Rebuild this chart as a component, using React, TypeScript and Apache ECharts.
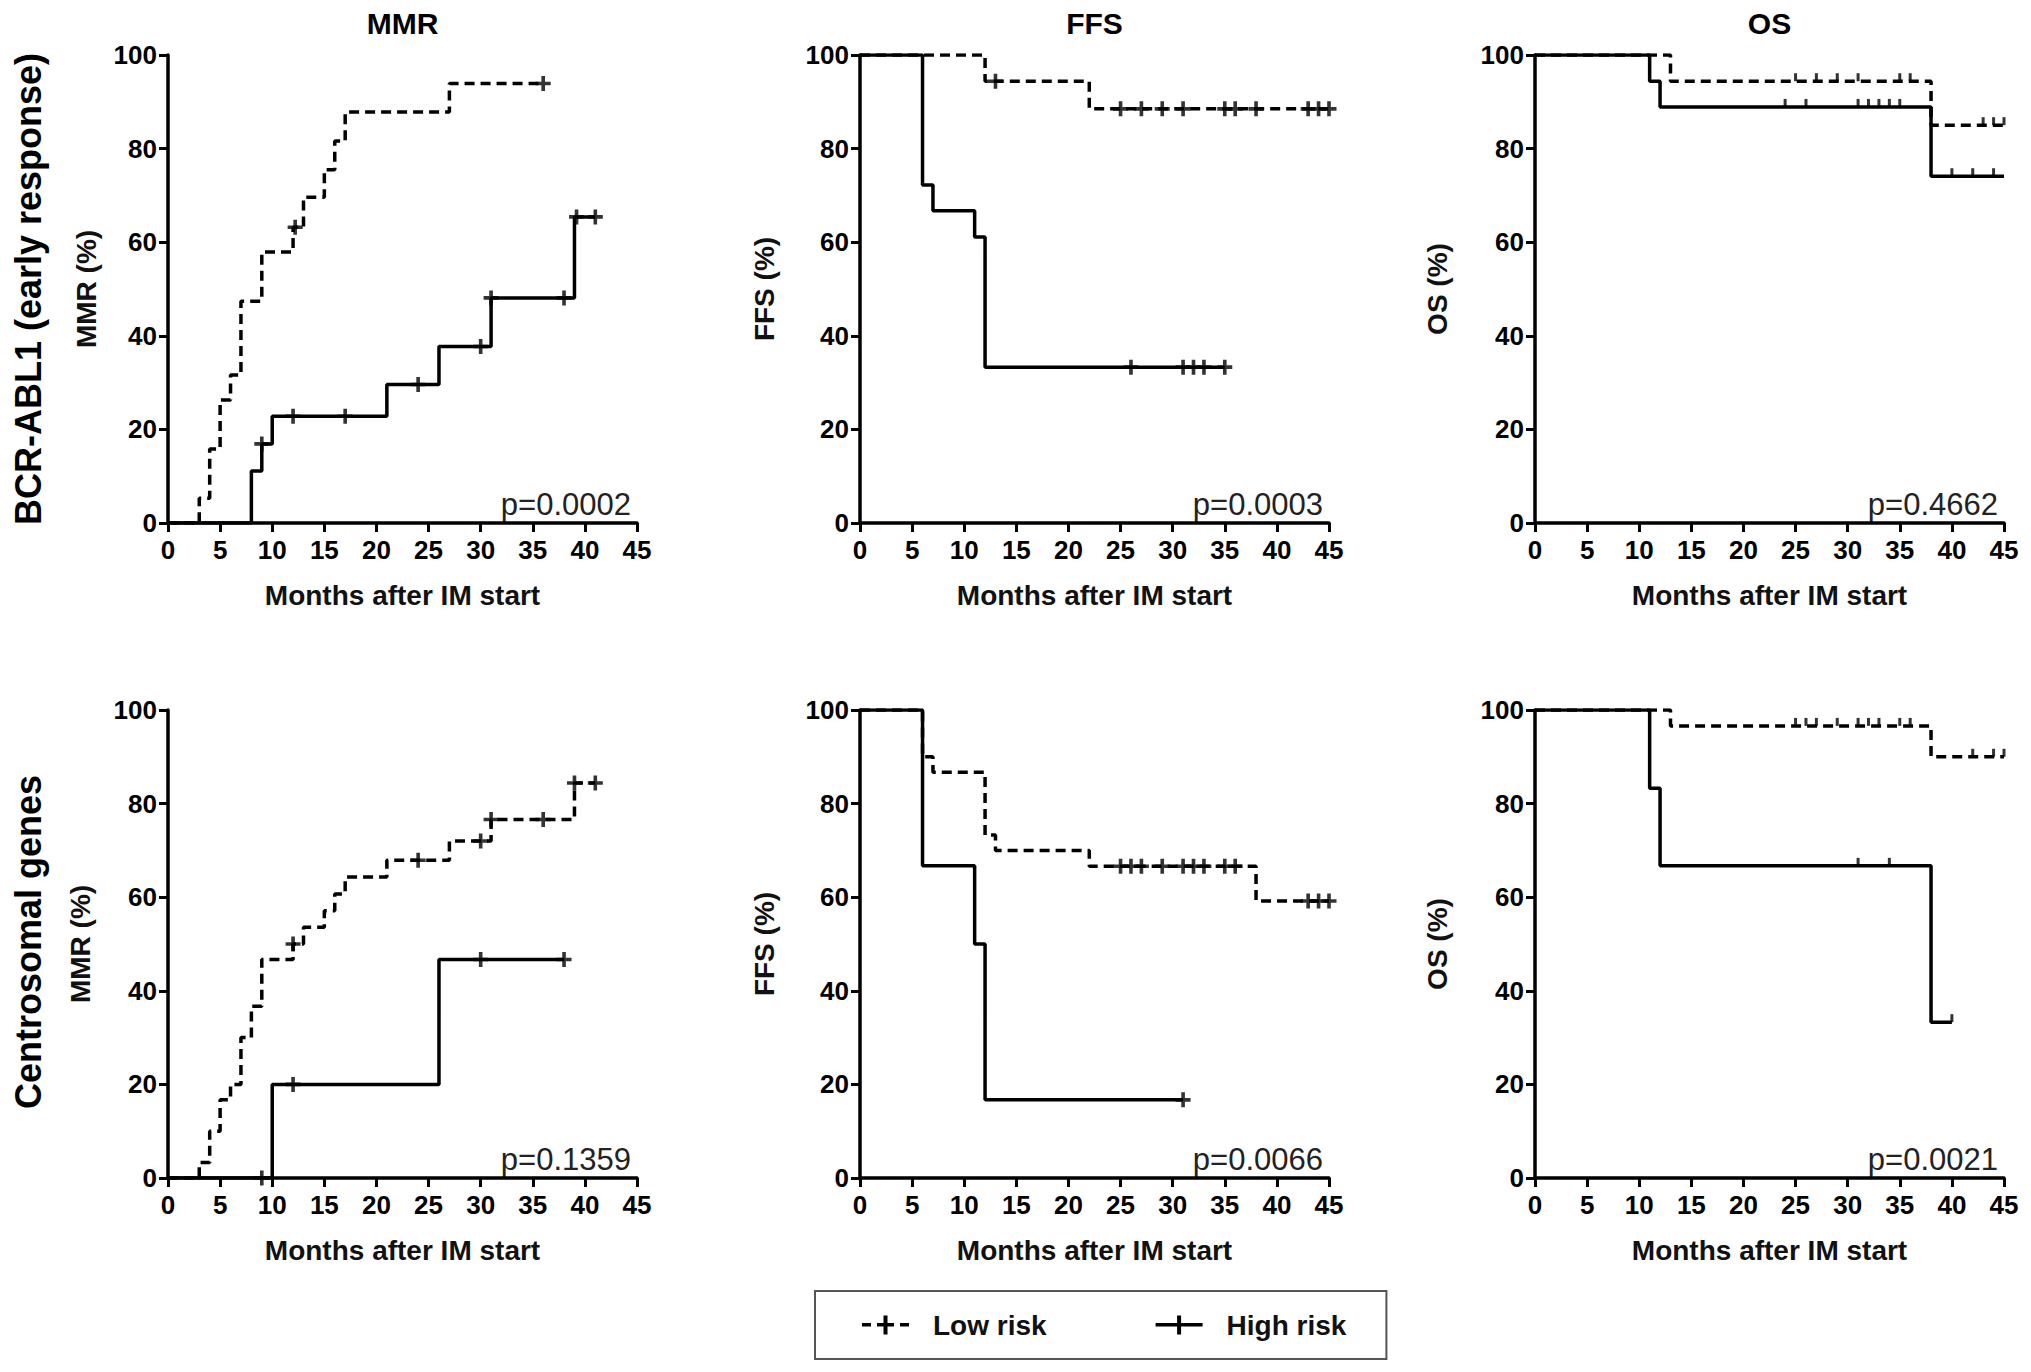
import React, { useEffect, useRef } from "react";
import * as echarts from "echarts";

const FONT = '"Liberation Sans", Arial, Helvetica, sans-serif';

// ---------- data (months, % values, censor times) ----------
// Row 1: BCR-ABL1 (early response)
const mmr1LowT = [0, 3, 4, 5, 6, 7, 9, 12, 13, 15, 16, 17, 27, 36];
const mmr1LowV = [0, 5.3, 15.8, 26.3, 31.6, 47.4, 57.9, 63.2, 69.6, 75.5, 81.6, 87.8, 93.9, 93.9];
const mmr1LowC = [12.2, 36];
const mmr1HighT = [0, 8, 9, 10, 21, 26, 31, 39, 41];
const mmr1HighV = [0, 11.1, 16.9, 22.8, 29.6, 37.7, 48.1, 65.4, 65.4];
const mmr1HighC = [9, 12, 17, 24, 30, 31, 38, 39.2, 41];

const ffs1LowT = [0, 12, 22, 45];
const ffs1LowV = [100, 94.4, 88.5, 88.5];
const ffs1LowC = [13, 25, 27, 29, 31, 35, 36, 38, 43, 44, 45];
const ffs1HighT = [0, 6, 7, 11, 12, 35];
const ffs1HighV = [100, 72.2, 66.7, 61.1, 33.3, 33.3];
const ffs1HighC = [26, 31, 32, 33, 35];

const os1LowT = [0, 13, 38, 45];
const os1LowV = [100, 94.4, 85.0, 85.0];
const os1LowC = [25, 27, 29, 31, 35, 36, 43, 44, 45];
const os1HighT = [0, 11, 12, 38, 45];
const os1HighV = [100, 94.4, 88.9, 74.1, 74.1];
const os1HighC = [24, 26, 31, 32, 33, 34, 35, 40, 42, 44];

// Row 2: Centrosomal genes
const mmr2LowT = [0, 3, 4, 5, 6, 7, 8, 9, 12, 13, 15, 16, 17, 21, 27, 31, 39, 41];
const mmr2LowV = [0, 3.3, 10, 16.7, 20, 30, 36.7, 46.7, 50, 53.6, 57.1, 60.7, 64.3, 67.9, 72.0, 76.6, 84.4, 84.4];
const mmr2LowC = [12, 24, 30, 31, 36, 39, 41];
const mmr2HighT = [0, 10, 26, 38];
const mmr2HighV = [0, 20, 46.7, 46.7];
const mmr2HighC = [9, 12, 30, 38];

const ffs2LowT = [0, 6, 7, 12, 13, 22, 38, 45];
const ffs2LowV = [100, 90, 86.7, 73.3, 70, 66.6, 59.2, 59.2];
const ffs2LowC = [25, 26, 27, 29, 31, 32, 33, 35, 36, 43, 44, 45];
const ffs2HighT = [0, 6, 11, 12, 31];
const ffs2HighV = [100, 66.7, 50, 16.7, 16.7];
const ffs2HighC = [31];

const os2LowT = [0, 13, 38, 45];
const os2LowV = [100, 96.6, 90.0, 90.0];
const os2LowC = [25, 26, 27, 29, 31, 32, 33, 35, 36, 42, 44, 45];
const os2HighT = [0, 11, 12, 38, 40];
const os2HighV = [100, 83.3, 66.7, 33.3, 33.3];
const os2HighC = [31, 34, 40];

const colTitles = ["MMR", "FFS", "OS"];
const rowLabels = ["BCR-ABL1 (early response)", "Centrosomal genes"];
const yNames = ["MMR (%)", "FFS (%)", "OS (%)"];
const pValues = ["p=0.0002", "p=0.0003", "p=0.4662", "p=0.1359", "p=0.0066", "p=0.0021"];
const xName = "Months after IM start";
const legendNames = ["Low risk", "High risk"];
const X_MAX = 45;
const X_STEP = 5;
const Y_MAX = 100;
const Y_STEP = 20;

// ---------- layout ----------
const COL_LEFT = [168, 860, 1535];
const ROW_TOP = [55, 710];
const PW = 469;
const PH = 468;
const Y_NAME_GAP = [68, 82, 84, 74, 82, 84];
const ROW_LABEL_Y = [289, 942];

const PLUS = "path://M5.5,0h3.5v5.5h5.5v3.5h-5.5v5.5h-3.5v-5.5h-5.5v-3.5h5.5z";
const LOW_ICON =
  "path://M0,8.5h9v3.5h-9z M15,8.5h6.5v-7.5h4v7.5h6.5v3.5h-6.5v8h-4v-8h-6.5z M38,8.5h9v3.5h-9z";
const HIGH_ICON =
  "path://M0,8.5h21.5v-7.5h4v7.5h21.5v3.5h-21.5v8h-4v-8h-21.5z";

function stepAt(T: number[], V: number[], t: number) {
  let v = V[0];
  for (let i = 0; i < T.length; i++) if (T[i] <= t) v = V[i];
  return v;
}

type Curve = { T: number[]; V: number[]; C: number[] };
type Panel = { low: Curve; high: Curve; tickMarks: boolean };

const panels: Panel[] = [
  { low: { T: mmr1LowT, V: mmr1LowV, C: mmr1LowC }, high: { T: mmr1HighT, V: mmr1HighV, C: mmr1HighC }, tickMarks: false },
  { low: { T: ffs1LowT, V: ffs1LowV, C: ffs1LowC }, high: { T: ffs1HighT, V: ffs1HighV, C: ffs1HighC }, tickMarks: false },
  { low: { T: os1LowT, V: os1LowV, C: os1LowC }, high: { T: os1HighT, V: os1HighV, C: os1HighC }, tickMarks: true },
  { low: { T: mmr2LowT, V: mmr2LowV, C: mmr2LowC }, high: { T: mmr2HighT, V: mmr2HighV, C: mmr2HighC }, tickMarks: false },
  { low: { T: ffs2LowT, V: ffs2LowV, C: ffs2LowC }, high: { T: ffs2HighT, V: ffs2HighV, C: ffs2HighC }, tickMarks: false },
  { low: { T: os2LowT, V: os2LowV, C: os2LowC }, high: { T: os2HighT, V: os2HighV, C: os2HighC }, tickMarks: true },
];

function buildOption() {
  const grids: any[] = [];
  const xAxes: any[] = [];
  const yAxes: any[] = [];
  const series: any[] = [];
  const graphics: any[] = [];

  panels.forEach((p, i) => {
    const row = Math.floor(i / 3);
    const col = i % 3;
    const left = COL_LEFT[col];
    const top = ROW_TOP[row];
    grids.push({ left, top, width: PW, height: PH, containLabel: false });
    const axisCommon = {
      axisLine: { show: true, onZero: false, lineStyle: { color: "#000", width: 3.5 } },
      axisTick: { show: true, length: 9, lineStyle: { color: "#000", width: 3 } },
      splitLine: { show: false },
    };
    xAxes.push({
      type: "value",
      gridIndex: i,
      min: 0,
      max: X_MAX,
      interval: X_STEP,
      ...axisCommon,
      axisLabel: { color: "#000", fontSize: 26, fontWeight: "bold", fontFamily: FONT, margin: 14 },
      name: xName,
      nameLocation: "middle",
      nameGap: 58,
      nameTextStyle: { color: "#111", fontSize: 28, fontWeight: "bold", fontFamily: FONT },
    });
    yAxes.push({
      type: "value",
      gridIndex: i,
      min: 0,
      max: Y_MAX,
      interval: Y_STEP,
      ...axisCommon,
      axisLabel: { color: "#000", fontSize: 26, fontWeight: "bold", fontFamily: FONT, margin: 11 },
      name: yNames[col],
      nameLocation: "middle",
      nameRotate: 90,
      nameGap: Y_NAME_GAP[i],
      nameTextStyle: { color: "#111", fontSize: 28, fontWeight: "bold", fontFamily: FONT },
    });

    const censorSymbol = p.tickMarks
      ? { symbol: "rect", symbolSize: [3, 8], symbolOffset: [0, -4] }
      : { symbol: PLUS, symbolSize: 15 };

    ([
      ["Low risk", p.low, [10, 6]],
      ["High risk", p.high, "solid"],
    ] as any[]).forEach(([name, c, dash]) => {
      series.push({
        type: "line",
        name,
        xAxisIndex: i,
        yAxisIndex: i,
        step: "end",
        showSymbol: false,
        symbol: "none",
        silent: true,
        data: c.T.map((t: number, k: number) => [t, c.V[k]]),
        lineStyle: { color: "#000", width: 3.5, type: dash },
        itemStyle: { color: "#000" },
        z: 3,
      });
      series.push({
        type: "scatter",
        name,
        xAxisIndex: i,
        yAxisIndex: i,
        silent: true,
        data: c.C.map((t: number) => [t, stepAt(c.T, c.V, t)]),
        ...censorSymbol,
        itemStyle: { color: "#000" },
        z: 4,
      });
    });

    graphics.push({
      type: "text",
      x: left + PW - 6,
      y: top + PH - 19,
      style: {
        text: pValues[i],
        fontSize: 31,
        fontFamily: FONT,
        fill: "#222",
        align: "right",
        verticalAlign: "middle",
      },
    });
  });

  colTitles.forEach((t, col) => {
    graphics.push({
      type: "text",
      x: COL_LEFT[col] + PW / 2,
      y: 23,
      style: { text: t, fontSize: 30, fontWeight: "bold", fontFamily: FONT, fill: "#000", align: "center", verticalAlign: "middle" },
    });
  });

  rowLabels.forEach((t, row) => {
    graphics.push({
      type: "text",
      x: 28,
      y: ROW_LABEL_Y[row],
      rotation: Math.PI / 2,
      style: { text: t, fontSize: 36, fontWeight: "bold", fontFamily: FONT, fill: "#000", align: "center", verticalAlign: "middle" },
    });
  });

  return {
    animation: false,
    backgroundColor: "#fff",
    grid: grids,
    xAxis: xAxes,
    yAxis: yAxes,
    series,
    graphic: graphics,
    legend: {
      data: [
        { name: legendNames[0], icon: LOW_ICON },
        { name: legendNames[1], icon: HIGH_ICON },
      ],
      left: 815,
      top: 1291,
      orient: "horizontal",
      itemWidth: 47,
      itemHeight: 20,
      itemGap: 109,
      selectedMode: false,
      borderColor: "#555",
      borderWidth: 2,
      padding: [20, 40, 20, 47],
      itemStyle: { color: "#000" },
      textStyle: { fontSize: 28, fontWeight: "bold", fontFamily: FONT, color: "#111", padding: [0, 0, 0, 19], lineHeight: 28 },
    },
  };
}

export default function App() {
  const ref = useRef<HTMLDivElement>(null);
  useEffect(() => {
    if (!ref.current) return;
    const chart = echarts.init(ref.current, undefined, { renderer: "svg" });
    chart.setOption(buildOption() as any);
    return () => chart.dispose();
  }, []);
  return (
    <div
      ref={ref}
      style={{ position: "absolute", left: 0, top: 0, width: 2031, height: 1372, background: "#fff" }}
    />
  );
}
